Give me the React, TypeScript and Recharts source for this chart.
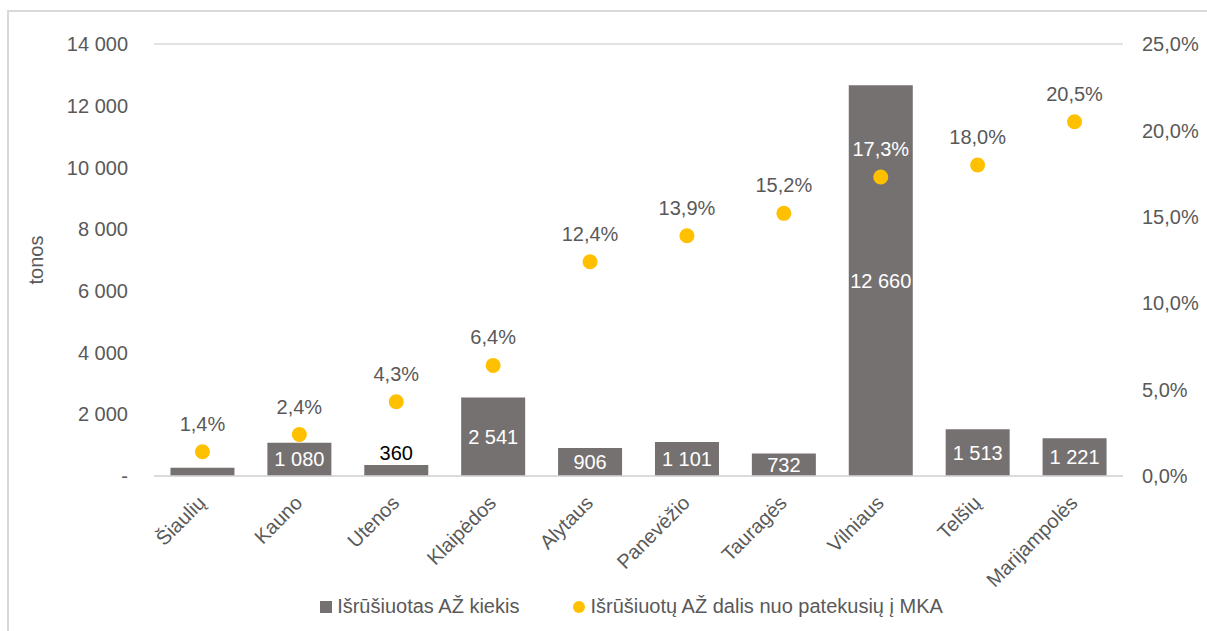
import React from "react";
import {
  ComposedChart,
  Bar,
  Line,
  XAxis,
  YAxis,
  CartesianGrid,
  Legend,
  LabelList,
} from "recharts";

const regions = [
  "Šiaulių",
  "Kauno",
  "Utenos",
  "Klaipėdos",
  "Alytaus",
  "Panevėžio",
  "Tauragės",
  "Vilniaus",
  "Telšių",
  "Marijampolės",
];
const sortedTons = [270, 1080, 360, 2541, 906, 1101, 732, 12660, 1513, 1221];
const sharePct = [1.4, 2.4, 4.3, 6.4, 12.4, 13.9, 15.2, 17.3, 18.0, 20.5];
const leftTicks = [0, 2000, 4000, 6000, 8000, 10000, 12000, 14000];
const rightTicks = [0, 5, 10, 15, 20, 25];

const data = regions.map((name, i) => ({
  name,
  tons: sortedTons[i],
  pct: sharePct[i],
}));

const FONT = "'Liberation Sans', Arial, sans-serif";
const FS = 20;
const TEXT = "#595959";
const BAR = "#767171";
const DOT = "#FFC000";

const fmtThousands = (v: number) =>
  v === 0 ? "-" : String(v).replace(/\B(?=(\d{3})+(?!\d))/g, " ");
const fmtPct = (v: number) => v.toFixed(1).replace(".", ",") + "%";

const BarLabel = (props: any) => {
  const { x, y, width, height, value } = props;
  if (height < 10) return null;
  if (height < 20) {
    return (
      <text x={x + width / 2} y={y - 5} textAnchor="middle" fill="#000" fontSize={FS} fontFamily={FONT}>
        {fmtThousands(value)}
      </text>
    );
  }
  return (
    <text
      x={x + width / 2}
      y={y + height / 2}
      dy={7}
      textAnchor="middle"
      fill="#fff"
      fontSize={FS}
      fontFamily={FONT}
    >
      {fmtThousands(value)}
    </text>
  );
};

const PctLabel = (props: any) => {
  const { x, y, value, index } = props;
  // white when the point sits inside its bar
  const inside = sortedTons[index] / 14000 > sharePct[index] / 25;
  return (
    <text x={x} y={y - 21} textAnchor="middle" fill={inside ? "#fff" : TEXT} fontSize={FS} fontFamily={FONT}>
      {fmtPct(value)}
    </text>
  );
};

const XTick = (props: any) => {
  const { x, y, payload } = props;
  return (
    <g transform={`translate(${x},${y + 16})`}>
      <text
        textAnchor="end"
        transform="rotate(-45)"
        fill={TEXT}
        fontSize={FS}
        fontFamily={FONT}
        dy={6}
      >
        {payload.value}
      </text>
    </g>
  );
};

const LegendContent = () => (
  <div
    style={{
      display: "flex",
      justifyContent: "center",
      gap: 54,
      fontFamily: FONT,
      fontSize: FS,
      color: TEXT,
      paddingLeft: 36,
    }}
  >
    <span style={{ display: "flex", alignItems: "center" }}>
      <span style={{ width: 12, height: 12, background: BAR, marginRight: 5 }} />
      Išrūšiuotas AŽ kiekis
    </span>
    <span style={{ display: "flex", alignItems: "center" }}>
      <span style={{ width: 12, height: 12, borderRadius: 6, background: DOT, marginRight: 5 }} />
      Išrūšiuotų AŽ dalis nuo patekusių į MKA
    </span>
  </div>
);

export default function App() {
  return (
    <div
      style={{
        position: "absolute",
        left: 0,
        top: 0,
        width: 1207,
        height: 631,
        background: "#fff",
      }}
    >
      <div
        style={{
          position: "absolute",
          left: 7,
          top: 10,
          right: 0,
          bottom: 0,
          borderTop: "2px solid #d9d9d9",
          borderLeft: "2px solid #d9d9d9",
        }}
      />
      <ComposedChart
        width={1207}
        height={631}
        data={data}
        margin={{ top: 44, right: 0, left: 20, bottom: 10 }}
        barCategoryGap="17%"
        style={{ position: "absolute", left: 0, top: 0 }}
      >
        <CartesianGrid vertical={false} stroke="#d9d9d9" strokeWidth={1.5} />
        <XAxis
          dataKey="name"
          axisLine={{ stroke: "#d9d9d9", strokeWidth: 1.5 }}
          tickLine={false}
          interval={0}
          height={119}
          tick={<XTick />}
        />
        <YAxis
          yAxisId="left"
          width={134}
          domain={[0, 14000]}
          ticks={leftTicks}
          axisLine={false}
          tickLine={false}
          tickSize={0}
          tickMargin={26}
          tickFormatter={fmtThousands}
          tick={{ fill: TEXT, fontSize: FS, fontFamily: FONT }}
          label={{
            value: "tonos",
            angle: -90,
            position: "insideLeft",
            offset: 16,
            fill: TEXT,
            fontSize: FS,
            fontFamily: FONT,
            style: { textAnchor: "middle" },
          }}
        />
        <YAxis
          yAxisId="right"
          orientation="right"
          width={84}
          domain={[0, 25]}
          ticks={rightTicks}
          axisLine={false}
          tickLine={false}
          tickSize={0}
          tickMargin={19}
          tickFormatter={fmtPct}
          tick={{ fill: TEXT, fontSize: FS, fontFamily: FONT, textAnchor: "start" }}
        />
        <Legend verticalAlign="bottom" height={26} content={<LegendContent />} />
        <Bar yAxisId="left" dataKey="tons" fill={BAR} isAnimationActive={false}>
          <LabelList dataKey="tons" content={<BarLabel />} />
        </Bar>
        <Line
          yAxisId="right"
          dataKey="pct"
          stroke="none"
          strokeWidth={0}
          dot={{ r: 7.5, fill: DOT, stroke: "none" }}
          activeDot={false}
          isAnimationActive={false}
        >
          <LabelList dataKey="pct" content={<PctLabel />} />
        </Line>
      </ComposedChart>
    </div>
  );
}
